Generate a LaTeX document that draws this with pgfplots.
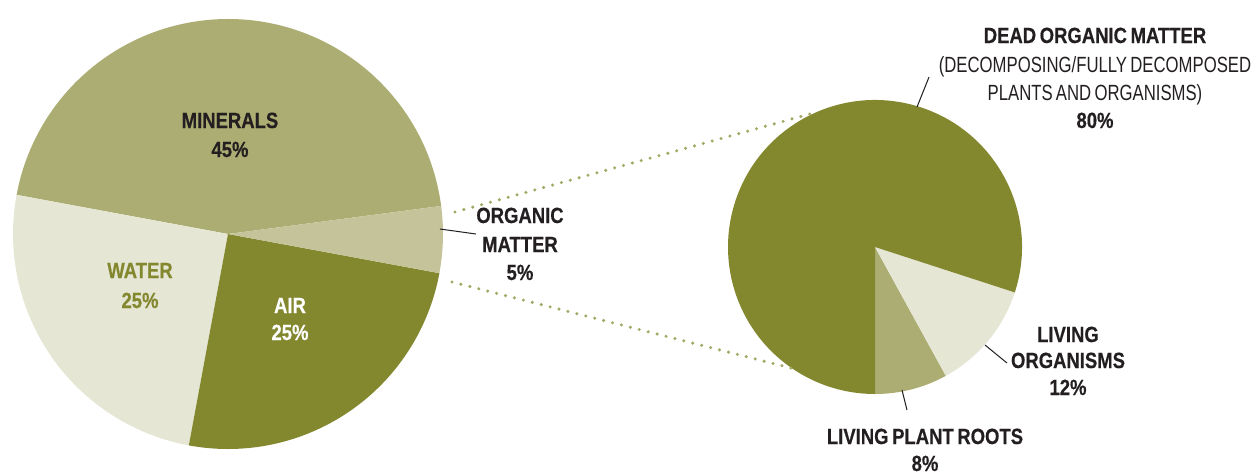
\documentclass[border=0pt]{standalone}
\usepackage{fontspec}
\setmainfont{Liberation Sans}[WordSpace=0.7, UprightFeatures={FakeStretch=0.76},
  BoldFeatures={FakeStretch=0.84, FakeBold=0.4}]
\usepackage{pgfplots}
\pgfplotsset{compat=1.18}
\definecolor{cMin}{HTML}{ACAD72}
\definecolor{cWat}{HTML}{E5E6D4}
\definecolor{cAir}{HTML}{83882F}
\definecolor{cOrg}{HTML}{C4C39A}
\definecolor{cTxt}{HTML}{231F20}
\definecolor{cDot}{HTML}{A3A865}

\begin{document}
\begin{tikzpicture}
\begin{axis}[name=ax, hide axis, scale only axis, x=0.5pt, y=0.5pt,
  xmin=0, xmax=1254, ymin=0, ymax=473, y dir=reverse, clip=false]

% soil composition (%), left pie, counter-clockwise from 7.5 deg
\xdef\ang{7.5}
\foreach \v/\c in {45/cMin,25/cWat,25/cAir,5/cOrg}{
  \pgfmathsetmacro\b{\ang+3.6*\v}
  \edef\cmd{\noexpand\fill[\c] (axis cs:228,234) -- ++(\ang:107.5pt)
    arc[start angle=\ang, end angle=\b, radius=107.5pt] -- cycle;}
  \cmd
  \xdef\ang{\b}
}

% organic matter breakdown (%), right pie, from -90 deg
\xdef\ang{270}
\foreach \v/\c in {8/cMin,12/cWat,80/cAir}{
  \pgfmathsetmacro\b{\ang+3.6*\v}
  \edef\cmd{\noexpand\fill[\c] (axis cs:875,247) -- ++(\ang:73.5pt)
    arc[start angle=\ang, end angle=\b, radius=73.5pt] -- cycle;}
  \cmd
  \xdef\ang{\b}
}

% dotted connectors
\draw[cDot, line width=1.7pt, line cap=round, dash pattern=on 0pt off 4.6pt]
  (axis cs:455,212) -- (axis cs:817,112);
\draw[cDot, line width=1.7pt, line cap=round, dash pattern=on 0pt off 4.6pt]
  (axis cs:452,282) -- (axis cs:795,369);

% callout lines
\draw[cTxt, line width=0.5pt] (axis cs:440,229) -- (axis cs:476,234);
\draw[cTxt, line width=0.5pt] (axis cs:917,107) -- (axis cs:929,77);
\draw[cTxt, line width=0.5pt] (axis cs:985,345) -- (axis cs:1007,363);
\draw[cTxt, line width=0.5pt] (axis cs:902,390) -- (axis cs:907,410);

\tikzset{lab/.style={anchor=base, inner sep=0pt, text=cTxt,
  font=\fontsize{11}{13}\selectfont\bfseries},
  reg/.style={lab, font=\fontsize{11}{13}\selectfont}}
\node[lab] at (axis cs:230,128) {MINERALS};
\node[lab] at (axis cs:230,157) {45\%};
\node[lab, text=cAir] at (axis cs:140,278) {WATER};
\node[lab, text=cAir] at (axis cs:140,308) {25\%};
\node[lab, text=white] at (axis cs:290,313) {AIR};
\node[lab, text=white] at (axis cs:290,340) {25\%};
\node[lab] at (axis cs:520,223) {ORGANIC};
\node[lab] at (axis cs:520,252) {MATTER};
\node[lab] at (axis cs:520,280) {5\%};
\node[lab] at (axis cs:1095,43) {DEAD ORGANIC MATTER};
\node[reg] at (axis cs:1095,72) {(DECOMPOSING/FULLY DECOMPOSED};
\node[reg] at (axis cs:1095,100) {PLANTS AND ORGANISMS)};
\node[lab] at (axis cs:1095,128) {80\%};
\node[lab] at (axis cs:1068,342) {LIVING};
\node[lab] at (axis cs:1068,368) {ORGANISMS};
\node[lab] at (axis cs:1068,395) {12\%};
\node[lab] at (axis cs:925,444) {LIVING PLANT ROOTS};
\node[lab] at (axis cs:925,471) {8\%};
\end{axis}
\pgfresetboundingbox
\path (ax.south west) rectangle (ax.north east);
\end{tikzpicture}
\end{document}
